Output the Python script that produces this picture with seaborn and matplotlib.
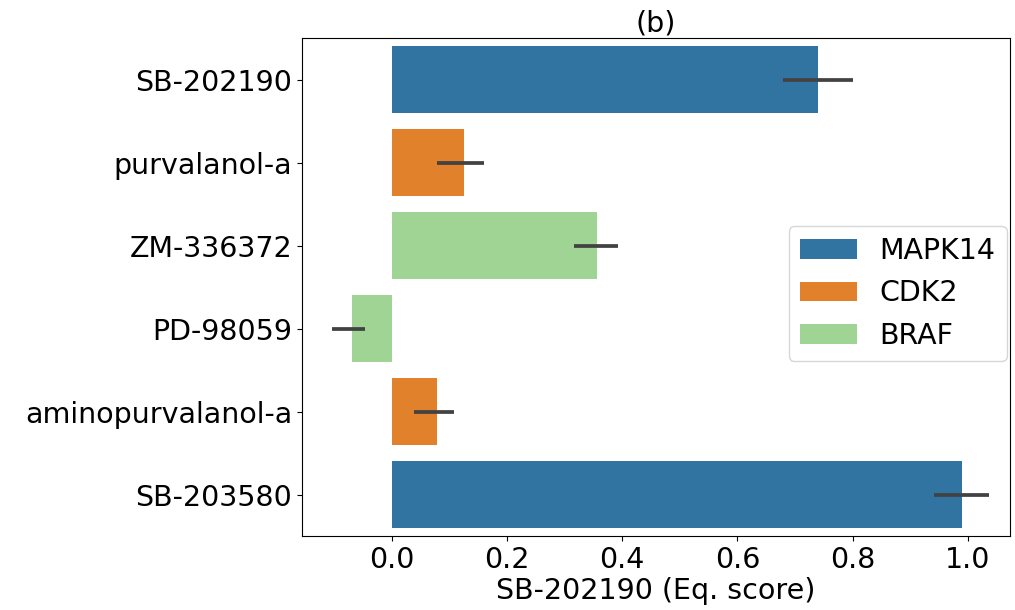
import matplotlib
matplotlib.use("Agg")
import matplotlib.pyplot as plt
import seaborn as sns
import pandas as pd

# Equilibrium scores of each compound against SB-202190, with 95% interval bounds
compounds = ["SB-202190", "purvalanol-a", "ZM-336372", "PD-98059",
             "aminopurvalanol-a", "SB-203580"]
targets = ["MAPK14", "CDK2", "BRAF", "BRAF", "CDK2", "MAPK14"]
scores = [0.740, 0.125, 0.356, -0.069, 0.078, 0.990]
ci_low = [0.679, 0.078, 0.316, -0.104, 0.038, 0.941]
ci_high = [0.800, 0.160, 0.392, -0.047, 0.108, 1.036]

target_order = ["MAPK14", "CDK2", "BRAF"]
target_colors = {"MAPK14": "#1f77b4", "CDK2": "#ff7f0e", "BRAF": "#98df8a"}

df = pd.DataFrame({"compound": compounds, "target": targets, "score": scores})

fig = plt.figure(figsize=(10.15, 6.1), dpi=100)
ax = fig.add_axes([0.2975, 0.1213, 0.6975, 0.8164])

sns.barplot(data=df, x="score", y="compound", hue="target",
            hue_order=target_order, palette=target_colors,
            dodge=False, errorbar=None, order=compounds, ax=ax)

# interval lines drawn on the categorical axis
xerr = [[s - lo for s, lo in zip(scores, ci_low)],
        [hi - s for s, hi in zip(scores, ci_high)]]
ax.errorbar(scores, compounds, xerr=xerr, fmt="none",
            ecolor=".26", elinewidth=2.7, capsize=0, zorder=3)

ax.set_xlim(-0.156, 1.073)
ax.set_ylim(5.5, -0.5)
ax.set_xticks([0.0, 0.2, 0.4, 0.6, 0.8, 1.0])
ax.tick_params(labelsize=20.5)
ax.set_xlabel("SB-202190 (Eq. score)", fontsize=20.5, labelpad=2)
ax.set_ylabel("")
ax.set_title("(b)", fontsize=20.5, pad=5)

ax.legend(loc="center right", bbox_to_anchor=(1.0, 0.487),
          borderaxespad=0.1, fontsize=20.5, title=None)

fig.savefig("out.png", dpi=100)
